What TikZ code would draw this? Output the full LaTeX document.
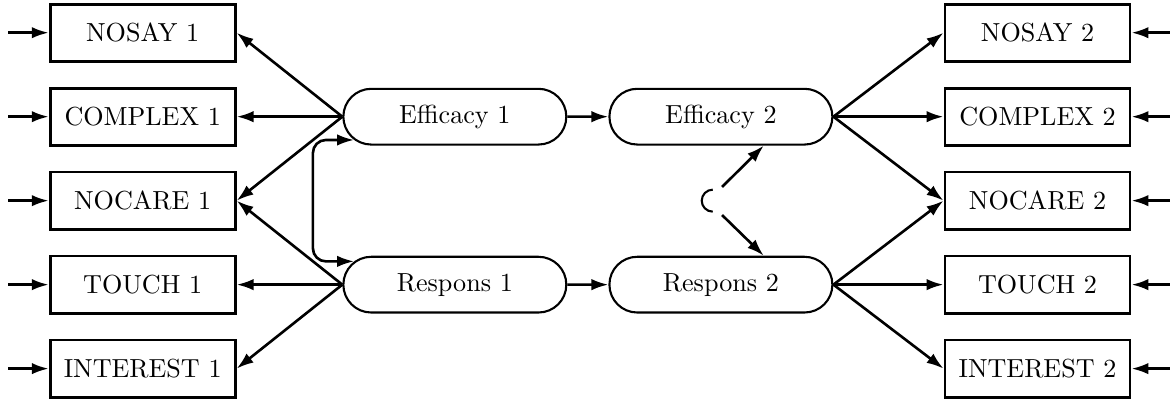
\documentclass[tikz,border=0pt]{standalone}
\usetikzlibrary{shapes.misc,arrows.meta}

\tikzset{
  ind/.style={draw, line width=1.1pt, minimum width=2.49cm, minimum height=0.77cm, inner sep=0pt},
  lat/.style={draw, rounded rectangle, line width=0.8pt, minimum width=3cm, minimum height=0.75cm, inner sep=0pt},
  arr/.style={-{Latex[length=6.5pt,width=4.4pt]}, line width=1pt},
  cov/.style={{Latex[length=6.5pt,width=4.4pt]}-{Latex[length=6.5pt,width=4.4pt]}, line width=1pt, rounded corners=5pt},
}

\begin{document}
\begin{tikzpicture}
\useasboundingbox (0,0) rectangle (15.81,5.42);

% indicators, with their error arrows
\foreach \n/\t/\y in {nosay/NOSAY/4.98, complex/COMPLEX/3.85, nocare/NOCARE/2.72, touch/TOUCH/1.59, interest/INTEREST/0.46} {
  \node[ind] (\n1) at (1.92,\y) {\t{} 1};
  \node[ind] (\n2) at (13.96,\y) {\t{} 2};
  \coordinate (\n1e) at (0.11,\y);
  \coordinate (\n2e) at (15.74,\y);
  \draw[arr] (\n1e) -- (\n1);
  \draw[arr] (\n2e) -- (\n2);
}

% latent variables
\node[lat] (eff1) at (6.12,3.85) {Efficacy 1};
\node[lat] (resp1) at (6.12,1.59) {Respons 1};
\node[lat] (eff2) at (9.70,3.85) {Efficacy 2};
\node[lat] (resp2) at (9.70,1.59) {Respons 2};

\draw[arr] (eff1) -- (eff2);
\draw[arr] (resp1) -- (resp2);

\draw[arr] (eff1.west) -- (nosay1.east);
\draw[arr] (eff1.west) -- (complex1.east);
\draw[arr] (eff1.west) -- (nocare1.east);
\draw[arr] (resp1.west) -- (nocare1.east);
\draw[arr] (resp1.west) -- (touch1.east);
\draw[arr] (resp1.west) -- (interest1.east);

\draw[arr] (eff2.east) -- (nosay2.west);
\draw[arr] (eff2.east) -- (complex2.west);
\draw[arr] (eff2.east) -- (nocare2.west);
\draw[arr] (resp2.east) -- (nocare2.west);
\draw[arr] (resp2.east) -- (touch2.west);
\draw[arr] (resp2.east) -- (interest2.west);

% covariances
\coordinate (cv) at (4.21,2.72);
\draw[cov] (eff1.193) -| (cv) |- (resp1.167);

\coordinate (rtop) at (9.59,2.868);
\coordinate (r1) at (9.715,2.904);
\coordinate (r2) at (9.715,2.527);
\draw[line width=0.8pt] (rtop) arc[start angle=90, end angle=270, radius=0.148];
\draw[arr] (r1) -- (eff2.-34);
\draw[arr] (r2) -- (resp2.34);

\end{tikzpicture}
\end{document}
